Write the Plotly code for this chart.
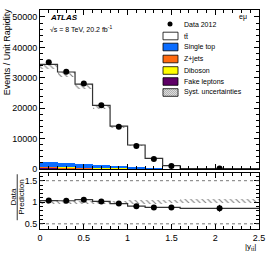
import numpy as np
import plotly.graph_objects as go

# ---- data ----
bin_edges = [0.0, 0.2, 0.4, 0.6, 0.8, 1.0, 1.2, 1.4, 1.6, 2.5]
data_vals = [35100, 32000, 28100, 21000, 13900, 7600, 3300, 1000, 150]
total_pred = [34400, 31900, 27900, 20900, 14100, 7900, 3500, 1100, 170]
pred_band_lo = [33000, 30400, 26300, 19900, 13400, 7500, 3300, 1040, 160]
single_top = [1600, 1350, 1100, 900, 700, 500, 270, 90, 10]
z_jets = [150, 130, 110, 90, 70, 50, 25, 10, 2]
diboson = [100, 90, 75, 60, 45, 30, 15, 6, 1]
fake_leptons = [550, 300, 250, 200, 160, 120, 60, 20, 3]
ratio_vals = [1.04, 1.035, 1.06, 1.02, 0.97, 0.91, 0.88, 0.88, 0.86]
ratio_err = [0.01, 0.01, 0.01, 0.012, 0.015, 0.02, 0.03, 0.05, 0.08]
ratio_band_lo = [0.96, 0.96, 0.96, 0.965, 0.965, 0.965, 0.97, 0.975, 0.975]
ratio_band_hi = [1.03, 1.03, 1.03, 1.035, 1.04, 1.05, 1.06, 1.065, 1.07]
data_x = [0.1, 0.3, 0.5, 0.7, 0.9, 1.1, 1.3, 1.5, 2.05]

edges = np.array(bin_edges)
centers = (edges[:-1] + edges[1:]) / 2
widths = np.diff(edges)

FONT = "Liberation Sans, Arial, sans-serif"
HATCH = dict(shape="\\", fgcolor="black", bgcolor="rgba(0,0,0,0)", size=4, solidity=0.28)
fig = go.Figure()

# stacked backgrounds (bottom to top)
stack = [("Fake leptons", fake_leptons, "#5e0066"),
         ("Z+jets", z_jets, "#ff6a10"),
         ("Diboson", diboson, "#ffff00"),
         ("Single top", single_top, "#0a6cff")]
base = np.zeros(len(centers))
for name, vals, col in stack:
    v = np.array(vals, dtype=float)
    fig.add_trace(go.Bar(x=centers, y=v, base=base, width=widths, marker=dict(color=col, line=dict(width=0)),
                         showlegend=False, hoverinfo="skip", xaxis="x", yaxis="y"))
    base = base + v
tt = np.array(total_pred, dtype=float) - base
fig.add_trace(go.Bar(x=centers, y=tt, base=base, width=widths, hoverinfo="skip",
                     marker=dict(color="white", line=dict(width=0)), showlegend=False, xaxis="x", yaxis="y"))
# syst band
lo = np.array(pred_band_lo, dtype=float)
fig.add_trace(go.Bar(x=centers, y=np.array(total_pred) - lo, base=lo, width=widths, hoverinfo="skip",
                     marker=dict(color="rgba(0,0,0,0)", line=dict(width=0), pattern=HATCH),
                     showlegend=False, xaxis="x", yaxis="y"))
# total outline as steps
step_x = list(edges)
step_y = list(total_pred) + [total_pred[-1]]
fig.add_trace(go.Scatter(x=step_x, y=step_y, mode="lines", line=dict(shape="hv", color="#333", width=1.2),
                         showlegend=False, hoverinfo="skip", xaxis="x", yaxis="y"))
# data
data_err = np.array(data_vals) * np.array(ratio_err) / np.array(ratio_vals)
fig.add_trace(go.Scatter(x=data_x, y=data_vals, mode="markers",
                         marker=dict(color="black", size=6),
                         error_y=dict(type="data", array=data_err, color="black", thickness=1, width=0),
                         showlegend=False, xaxis="x", yaxis="y"))

# ratio band
rlo = np.array(ratio_band_lo)
rhi = np.array(ratio_band_hi)
fig.add_trace(go.Bar(x=centers, y=rhi - rlo, base=rlo, width=widths, hoverinfo="skip",
                     marker=dict(color="rgba(0,0,0,0)", line=dict(width=0), pattern=HATCH),
                     showlegend=False, xaxis="x2", yaxis="y2"))
fig.add_trace(go.Scatter(x=step_x, y=list(ratio_vals) + [ratio_vals[-1]], mode="lines",
                         line=dict(shape="hv", color="#333", width=1.2), hoverinfo="skip",
                         showlegend=False, xaxis="x2", yaxis="y2"))
fig.add_trace(go.Scatter(x=data_x, y=ratio_vals, mode="markers",
                         marker=dict(color="black", size=6),
                         error_y=dict(type="data", array=ratio_err, color="black", thickness=1, width=0),
                         showlegend=False, xaxis="x2", yaxis="y2"))

axis_common = dict(showline=True, linecolor="black", linewidth=1, mirror="allticks", ticks="inside",
                   tickcolor="black", ticklen=5, showgrid=False, zeroline=False, ticklabeloverflow="allow",
                   automargin=False, tickfont=dict(family=FONT, size=9, color="black"))

fig.update_layout(
    width=270, height=260, margin=dict(l=40, r=11, t=10, b=31),
    paper_bgcolor="white", plot_bgcolor="white", barmode="overlay", bargap=0,
    font=dict(family=FONT, color="black"),
    xaxis=dict(domain=[0, 1], anchor="y", range=[0, 2.5], dtick=0.5, showticklabels=False,
               minor=dict(dtick=0.1, ticks="inside", ticklen=3, tickcolor="black"), **axis_common),
    yaxis=dict(domain=[0.274, 1], anchor="x", range=[0, 52300], dtick=10000, tickformat="d",
               minor=dict(dtick=2000, ticks="inside", ticklen=3, tickcolor="black"),
               **axis_common),
    xaxis2=dict(domain=[0, 1], anchor="y2", range=[0, 2.5], dtick=0.5, matches="x",
                minor=dict(dtick=0.1, ticks="inside", ticklen=3, tickcolor="black"), **axis_common),
    yaxis2=dict(domain=[0, 0.256], anchor="x2", range=[0.38, 1.68], tickvals=[0.5, 1, 1.5],
                ticktext=["0.5", "1", "1.5"],
                minor=dict(dtick=0.1, ticks="inside", ticklen=3, tickcolor="black"), **axis_common),
)

# main y title (top-aligned, ROOT style)
fig.add_annotation(xref="paper", yref="paper", x=-0.152, y=0.81, text="Events / Unit Rapidity", textangle=-90,
                   showarrow=False, font=dict(family=FONT, size=9), xanchor="center", yanchor="middle")

# dashed reference lines in ratio
for yv in [0.5, 1.5]:
    fig.add_shape(type="line", xref="x2 domain", yref="y2", x0=0, x1=1, y0=yv, y1=yv,
                  line=dict(color="#555", width=0.8, dash="dot"))

# ratio y title as fraction
fig.add_annotation(xref="paper", yref="paper", x=-0.122, y=0.145, text="Data", textangle=-90,
                   showarrow=False, font=dict(family=FONT, size=8), xanchor="center", yanchor="middle")
fig.add_annotation(xref="paper", yref="paper", x=-0.084, y=0.145, text="Prediction", textangle=-90,
                   showarrow=False, font=dict(family=FONT, size=8), xanchor="center", yanchor="middle")
fig.add_shape(type="line", xref="paper", yref="paper", x0=-0.104, x1=-0.104, y0=0.04, y1=0.25,
              line=dict(color="black", width=0.8))

# x title
fig.add_annotation(xref="paper", yref="paper", x=0.962, y=-0.05, text="|y<sub>tt̄</sub>|",
                   showarrow=False, font=dict(family=FONT, size=8), xanchor="center", yanchor="top")

# ATLAS labels
fig.add_annotation(xref="paper", yref="paper", x=0.035, y=0.965, text="<b><i>ATLAS</i></b>",
                   showarrow=False, font=dict(family=FONT, size=8), xanchor="left", yanchor="middle")
fig.add_annotation(xref="paper", yref="paper", x=0.035, y=0.915, text="√s = 8 TeV, 20.2 fb<sup>-1</sup>",
                   showarrow=False, font=dict(family=FONT, size=7), xanchor="left", yanchor="middle")
fig.add_annotation(xref="paper", yref="paper", x=0.925, y=0.97, text="eμ",
                   showarrow=False, font=dict(family=FONT, size=7), xanchor="center", yanchor="middle")

# manual legend (paper coords: x pixel -> (px-40)/219, y pixel -> (229-py)/219)
def px(xp):
    return (xp - 40) / 219.0

def py(yp):
    return (229 - yp) / 219.0

legend_items = [("tt̄", "white", None), ("Single top", "#0a6cff", None), ("Z+jets", "#ff6a10", None),
                ("Diboson", "#ffff00", None), ("Fake leptons", "#5e0066", None), ("Syst. uncertainties", "white", "hatch")]
fig.add_shape(type="circle", xref="paper", yref="paper", x0=px(167.5), x1=px(172.5), y0=py(26.5), y1=py(21.5),
              fillcolor="black", line=dict(width=0))
fig.add_annotation(xref="paper", yref="paper", x=px(182), y=py(24), text="Data 2012", showarrow=False,
                   font=dict(family=FONT, size=7), xanchor="left", yanchor="middle")
row_y = [36, 47, 59, 70.5, 81.5, 92.5]
for (name, col, kind), yc in zip(legend_items, row_y):
    if kind == "hatch":
        for k in range(-3, 8):
            xa = 163 + k * 2.0
            xs, xe = max(xa, 163), min(xa + 7.6, 178)
            if xe <= xs:
                continue
            fig.add_shape(type="line", xref="paper", yref="paper",
                          x0=px(xs), y0=py(yc - 3.8 + (xs - xa)), x1=px(xe), y1=py(yc - 3.8 + (xe - xa)),
                          line=dict(color="#444", width=0.6))
    fig.add_shape(type="rect", xref="paper", yref="paper", x0=px(163), x1=px(178), y0=py(yc + 3.8), y1=py(yc - 3.8),
                  fillcolor=col if kind is None else "rgba(0,0,0,0)", line=dict(color="black", width=0.8))
    fig.add_annotation(xref="paper", yref="paper", x=px(182), y=py(yc), text=name, showarrow=False,
                       font=dict(family=FONT, size=7), xanchor="left", yanchor="middle")

fig.write_html("out.html", config={"displayModeBar": False},
               post_script="document.body.style.margin='0';document.body.style.overflow='hidden';")
